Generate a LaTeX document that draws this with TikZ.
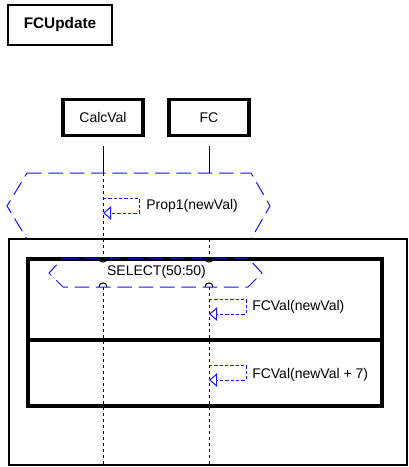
\documentclass[tikz,border=0pt]{standalone}
\usepackage{fontspec}
\setmainfont{Liberation Sans}
\usetikzlibrary{arrows.meta}
\definecolor{msgblue}{RGB}{20,20,255}
\begin{document}
\begin{tikzpicture}[x=0.75pt,y=-0.75pt,
  lbl/.style={font=\fontsize{10.5}{12}\selectfont, inner sep=0pt},
  lifebox/.style={draw, line width=2.3pt, minimum width=60pt, minimum height=27pt, inner sep=0pt, font=\fontsize{10.5}{12}\selectfont},
  titlebox/.style={draw, line width=1.6pt, minimum width=78pt, minimum height=30pt, inner sep=0pt, font=\bfseries\fontsize{11.5}{13}\selectfont},
  solidlife/.style={line width=0.75pt},
  dashlife/.style={line width=0.75pt, dash pattern=on 2.3pt off 2.2pt},
  hexa/.style={draw=msgblue, line width=0.75pt, dash pattern=on 11pt off 5pt},
  msg/.style={draw=msgblue, line width=0.75pt, dash pattern=on 2.4pt off 1.6pt, -{Triangle[open, length=6pt, width=10pt, line width=0.75pt]}},
  frm/.style={draw, line width=1.6pt},
  altfrm/.style={draw, line width=2.3pt},
  hop/.style={line width=0.75pt}
]
\useasboundingbox (0,0) rectangle (409,467);

% title
\node[titlebox] (title) at (60,25) {FCUpdate};

% lifeline heads
\node[lifebox] (cv) at (103,117.5) {CalcVal};
\node[lifebox] (fc) at (209,117.5) {FC};

% coordinates on lifelines
\coordinate (cvs) at (103,146);
\coordinate (fcs) at (209,146);
\coordinate (cvh) at (103,173);
\coordinate (fch) at (209,173);
\coordinate (fct) at (209,239);
\coordinate (cvA) at (103,258);
\coordinate (fcA) at (209,258);
\coordinate (cvB) at (103,287);
\coordinate (fcB) at (209,287);
\coordinate (cve) at (103,466);
\coordinate (fce) at (209,466);

% top hexagon (ref region)
\draw[hexa] (27,173) -- (251,173) -- (270,206) -- (251,239) -- (27,239) -- (7,206) -- cycle;

% outer frame
\draw[frm] (9,239) rectangle (407,465);

% alt frame
\draw[altfrm] (28,259) rectangle (382,406);
\draw[altfrm] (28,340) -- (382,340);

% lifelines
\draw[solidlife] (cvs) -- (cvh);
\draw[solidlife] (fcs) -- (fch);
\draw[dashlife] (cvh) -- (cvA);
\draw[dashlife] (fct) -- (fcA);
\draw[dashlife] (cvB) -- (cve);
\draw[dashlife] (fcB) -- (fce);

% SELECT hexagon
\draw[hexa] (63,258) -- (248,258) -- (262,273) -- (248,287) -- (63,287) -- (49,273) -- cycle;
\node[lbl] (sel) at (156.5,272) {SELECT(50:50)};

% hops
\draw[hop] (99,258) .. controls (99,263.5) and (107,263.5) .. (107,258);
\draw[hop] (205,258) .. controls (205,263.5) and (213,263.5) .. (213,258);
\draw[hop] (99,287) .. controls (99,281.5) and (107,281.5) .. (107,287);
\draw[hop] (205,287) .. controls (205,281.5) and (213,281.5) .. (213,287);

% self messages
\coordinate (m1a) at (103,198);
\coordinate (m1b) at (139,198);
\coordinate (m1c) at (139,213);
\coordinate (m1d) at (103,213);
\draw[msg] (m1a) -- (m1b) -- (m1c) -- (m1d);
\node[lbl, anchor=west] (m1l) at (146,206) {Prop1(newVal)};

\coordinate (m2a) at (209,299);
\coordinate (m2b) at (246,299);
\coordinate (m2c) at (246,314);
\coordinate (m2d) at (209,314);
\draw[msg] (m2a) -- (m2b) -- (m2c) -- (m2d);
\node[lbl, anchor=west] (m2l) at (252,307) {FCVal(newVal)};

\coordinate (m3a) at (209,365);
\coordinate (m3b) at (246,365);
\coordinate (m3c) at (246,380);
\coordinate (m3d) at (209,380);
\draw[msg] (m3a) -- (m3b) -- (m3c) -- (m3d);
\node[lbl, anchor=west] (m3l) at (252,375) {FCVal(newVal + 7)};
\end{tikzpicture}
\end{document}
